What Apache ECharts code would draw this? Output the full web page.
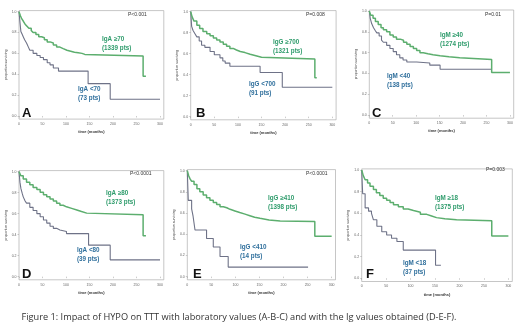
<!DOCTYPE html>
<html>
<head>
<meta charset="utf-8">
<script src="https://cdn.jsdelivr.net/npm/echarts@6/dist/echarts.min.js"></script>
<style>html,body{margin:0;padding:0;background:#fff}#c{width:520px;height:332px}</style>
</head>
<body>
<div id="c"></div>
<script>
// ---- data (time in months, proportion surviving) ----
const A_high = [[0,1],[3,0.96],[6,0.93],[9,0.91],[13,0.88],[17,0.86],[21,0.84],[26,0.82],[30,0.80],[36,0.78],[42,0.76],[48,0.75],[54,0.73],[60,0.71],[66,0.70],[73,0.68],[80,0.66],[87,0.645],[94,0.63],[102,0.62],[110,0.61],[118,0.605],[126,0.60],[134,0.59],[140,0.575],[264,0.38],[270,0.38]];
const A_low = [[0,1],[2,0.9],[4,0.81],[7,0.78],[9,0.76],[12,0.73],[16,0.70],[20,0.66],[23,0.63],[30,0.60],[38,0.58],[45,0.56],[52,0.54],[60,0.51],[66,0.49],[73,0.46],[84,0.43],[147,0.31],[194,0.16],[300,0.16]];
const B_high = [[0,1],[3,0.95],[7,0.91],[13,0.87],[19,0.84],[26,0.81],[34,0.79],[41,0.77],[48,0.75],[55,0.73],[62,0.71],[69,0.69],[76,0.67],[83,0.65],[90,0.635],[97,0.62],[105,0.61],[115,0.595],[126,0.58],[138,0.565],[150,0.55],[263,0.37],[267,0.37]];
const B_low = [[0,1],[2,0.86],[5,0.82],[9,0.79],[13,0.76],[18,0.72],[23,0.68],[30,0.66],[41,0.62],[50,0.59],[62,0.56],[68,0.53],[73,0.51],[83,0.48],[147,0.42],[194,0.28],[300,0.28]];
const C_high = [[0,1],[3,0.96],[8,0.93],[13,0.9],[19,0.87],[25,0.84],[30,0.82],[37,0.80],[44,0.77],[51,0.75],[58,0.73],[66,0.72],[73,0.70],[80,0.68],[87,0.66],[94,0.64],[101,0.62],[108,0.60],[115,0.59],[125,0.58],[136,0.57],[151,0.56],[170,0.55],[193,0.535],[261,0.41],[300,0.41]];
const C_low = [[0,1],[2,0.93],[5,0.88],[9,0.84],[13,0.81],[16,0.79],[21,0.76],[26,0.72],[30,0.70],[37,0.67],[44,0.64],[51,0.61],[58,0.58],[65,0.55],[72,0.53],[80,0.51],[101,0.50],[129,0.48],[151,0.44],[261,0.44]];
const D_high = [[0,1],[4,0.96],[9,0.93],[16,0.90],[23,0.875],[30,0.85],[38,0.83],[45,0.805],[52,0.78],[59,0.76],[66,0.74],[73,0.72],[80,0.70],[87,0.68],[94,0.665],[101,0.65],[112,0.635],[123,0.62],[133,0.605],[144,0.59],[264,0.39],[270,0.39]];
const D_low = [[0,1],[2,0.9],[4,0.84],[7,0.79],[9,0.76],[13,0.72],[16,0.70],[23,0.66],[30,0.63],[38,0.60],[45,0.57],[52,0.54],[59,0.51],[66,0.48],[73,0.46],[80,0.445],[87,0.43],[101,0.41],[148,0.30],[194,0.16],[300,0.16]];
const E_high = [[0,1],[3,0.95],[6,0.92],[9,0.90],[14,0.87],[20,0.83],[26,0.80],[33,0.77],[40,0.745],[47,0.72],[54,0.70],[61,0.68],[68,0.66],[75,0.65],[82,0.635],[89,0.62],[99,0.605],[109,0.59],[120,0.575],[130,0.56],[140,0.55],[151,0.535],[170,0.525],[193,0.52],[265,0.38],[300,0.38]];
const E_low = [[0,1],[2,0.72],[9,0.64],[12,0.57],[16,0.44],[40,0.36],[54,0.28],[68,0.19],[85,0.09],[251,0.09]];
const F_high = [[0,1],[3,0.95],[7,0.91],[12,0.88],[17,0.85],[24,0.82],[30,0.79],[37,0.765],[44,0.74],[51,0.72],[58,0.70],[65,0.68],[75,0.66],[85,0.64],[95,0.625],[106,0.61],[120,0.59],[133,0.575],[143,0.56],[153,0.55],[170,0.54],[194,0.53],[266,0.39],[300,0.39]];
const F_low = [[0,1],[2,0.78],[7,0.65],[14,0.62],[20,0.60],[24,0.54],[31,0.48],[41,0.43],[51,0.40],[61,0.37],[72,0.34],[85,0.26],[151,0.12],[162,0.12]];

const xTicks = [0,50,100,150,200,250,300];
const yTicks = [0,0.2,0.4,0.6,0.8,1.0];
const panelLetters = ['A','B','C','D','E','F'];
const pValues = ['P<0.001','P=0.008','P=0.01','P<0.0001','P<0.0001','P=0.003'];
const highLabels = ['IgA \u226570','IgG \u2265700','IgM \u226540','IgA \u226580','IgG \u2265410','IgM \u226518'];
const highCounts = ['(1339 pts)','(1321 pts)','(1274 pts)','(1373 pts)','(1398 pts)','(1375 pts)'];
const lowLabels = ['IgA <70','IgG <700','IgM <40','IgA <80','IgG <410','IgM <18'];
const lowCounts = ['(73 pts)','(91 pts)','(138 pts)','(39 pts)','(14 pts)','(37 pts)'];
const caption = 'Figure 1: Impact of HYPO on TTT with laboratory values (A-B-C) and with the Ig values obtained (D-E-F).';

const highData = [A_high,B_high,C_high,D_high,E_high,F_high];
const lowData = [A_low,B_low,C_low,D_low,E_low,F_low];

// ---- layout ----
const grids = [
  {left:19, top:10.6, width:144.8, height:108.5},
  {left:190.7, top:10.6, width:145.4, height:109.2},
  {left:369.3, top:10, width:144.4, height:108.2},
  {left:19, top:170.6, width:144.8, height:109.2},
  {left:187.3, top:169.6, width:148.2, height:110.2},
  {left:361.7, top:168.9, width:150.6, height:112.6}
];
const highPos = [[102,39],[273,42],[440,35],[106,193],[268,198],[435,198]];
const lowPos = [[78,89],[249,84],[387,76],[77,250],[240,247],[403,263]];
const pPos = [[128,15],[306,15],[485,15],[130,174],[306,174],[486,170]];
const letterPos = [[22,113],[196,113],[372,113],[22,274],[193,274],[366,274]];

const GREEN = '#5cae6e', GRAY = '#6e7287', GTXT = '#2f9c6c', BTXT = '#2f6f9c';
const FONT = '"Liberation Sans", Arial, sans-serif';

const option = {animation:false, backgroundColor:'#fff', grid:[], xAxis:[], yAxis:[], series:[], graphic:[]};
grids.forEach((g,i)=>{
  option.grid.push(Object.assign({show:true, borderColor:'#a0a0a0', borderWidth:0.6, containLabel:false}, g));
  option.xAxis.push({type:'value', gridIndex:i, min:0, max:308,
    name:'time (months)', nameLocation:'middle', nameGap:11,
    nameTextStyle:{fontSize:4, color:'#333', fontWeight:'bold', fontFamily:FONT},
    axisLine:{show:false}, splitLine:{show:false},
    axisTick:{show:true, length:1.5, lineStyle:{color:'#999', width:0.5}, customValues:xTicks},
    axisLabel:{fontSize:3.5, color:'#666', margin:3, customValues:xTicks, fontFamily:FONT}});
  option.yAxis.push({type:'value', gridIndex:i, min:-0.03, max:1.01,
    name:'proportion surviving', nameLocation:'middle', nameGap:9,
    nameTextStyle:{fontSize:3.5, color:'#333', fontFamily:FONT},
    axisLine:{show:false}, splitLine:{show:false},
    axisTick:{show:true, length:1.5, lineStyle:{color:'#999', width:0.5}, customValues:yTicks},
    axisLabel:{fontSize:3.5, color:'#666', margin:2.5, customValues:yTicks, formatter:v=>v.toFixed(1), fontFamily:FONT}});
  option.series.push({type:'line', xAxisIndex:i, yAxisIndex:i, step:'end', showSymbol:false, data:lowData[i],
    lineStyle:{color:GRAY, width:1.1}, z:2});
  option.series.push({type:'line', xAxisIndex:i, yAxisIndex:i, step:'end', showSymbol:false, data:highData[i],
    lineStyle:{color:GREEN, width:1.5}, z:3});
  const t = (x,y,text,style)=>option.graphic.push({type:'text', x:x, y:y, style:Object.assign({text:text, fontFamily:FONT, textVerticalAlign:'middle'}, style)});
  t(highPos[i][0], highPos[i][1], highLabels[i], {fill:GTXT, fontSize:6.3, fontWeight:'bold'});
  t(highPos[i][0], highPos[i][1]+9, highCounts[i], {fill:GTXT, fontSize:6.3, fontWeight:'bold'});
  t(lowPos[i][0], lowPos[i][1], lowLabels[i], {fill:BTXT, fontSize:6.3, fontWeight:'bold'});
  t(lowPos[i][0], lowPos[i][1]+9, lowCounts[i], {fill:BTXT, fontSize:6.3, fontWeight:'bold'});
  t(pPos[i][0], pPos[i][1], pValues[i], {fill:'#333', fontSize:5});
  t(letterPos[i][0], letterPos[i][1], panelLetters[i], {fill:'#111', fontSize:13, fontWeight:'bold'});
});
option.graphic.push({type:'text', x:239, y:317, style:{text:caption, fontFamily:'"Open Sans", "Liberation Sans", sans-serif', fontSize:9.2, fill:'#333', textAlign:'center', textVerticalAlign:'middle'}});

const chart = echarts.init(document.getElementById('c'), null, {renderer:'canvas'});
chart.setOption(option);
</script>
</body>
</html>
